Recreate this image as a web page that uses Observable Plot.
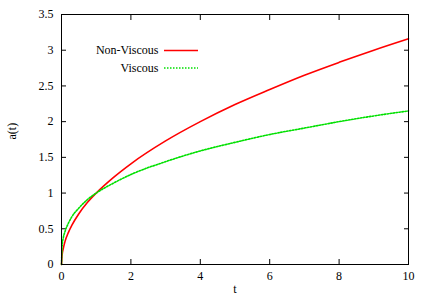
<!DOCTYPE html>
<html><head><meta charset="utf-8">
<script src="https://cdn.jsdelivr.net/npm/d3@7"></script>
<script src="https://cdn.jsdelivr.net/npm/@observablehq/plot@0.6"></script>
<style>
body{margin:0;background:#fff}
</style>
</head><body><div id="chart"></div>
<script>
const tValues = [0, 0.02, 0.05, 0.1, 0.2, 0.3, 0.5, 0.75, 1, 1.5, 2, 3, 4, 5, 6, 7, 8, 9, 10];
const nonViscous = [0, 0.14, 0.22, 0.32, 0.45, 0.55, 0.71, 0.87, 1, 1.22, 1.41, 1.73, 2, 2.24, 2.45, 2.65, 2.83, 3, 3.16];
const viscous = [0, 0.27, 0.37, 0.46, 0.58, 0.67, 0.79, 0.91, 1, 1.14, 1.26, 1.44, 1.59, 1.71, 1.82, 1.91, 2, 2.08, 2.15];
const xTicks = [0, 2, 4, 6, 8, 10];
const yTicks = [0, 0.5, 1, 1.5, 2, 2.5, 3, 3.5];
const seriesNames = ["Non-Viscous", "Viscous"];

const nv = tValues.map((t, i) => ({t, a: nonViscous[i]}));
const vs = tValues.map((t, i) => ({t, a: viscous[i]}));

const W = 428, H = 300, mL = 61, mR = 20, mT = 14, mB = 36;
const xs = d3.scaleLinear([0, 10], [mL, W - mR]);
const ys = d3.scaleLinear([0, 3.5], [H - mB, mT]);
const legX1 = xs.invert(164), legX2 = xs.invert(198);
const legY1 = ys.invert(50), legY2 = ys.invert(67.5);
const fmt = d => String(d);
const FS = 12;
const FF = "Liberation Serif";

const chart = Plot.plot({
  width: W, height: H,
  marginLeft: mL, marginRight: mR, marginTop: mT, marginBottom: mB,
  style: {fontSize: "12px", color: "#000", background: "#fff"},
  x: {domain: [0, 10]},
  y: {domain: [0, 3.5]},
  marks: [
    Plot.axisX({anchor: "bottom", ticks: xTicks, tickSize: -5, tickPadding: 12, tickFormat: fmt, label: null, fontSize: FS}),
    Plot.axisX({anchor: "top", ticks: xTicks, tickSize: -5, tickFormat: () => "", label: null}),
    Plot.axisY({anchor: "left", ticks: yTicks, tickSize: -5, tickPadding: 13, tickFormat: fmt, label: null, fontSize: FS}),
    Plot.axisY({anchor: "right", ticks: yTicks, tickSize: -5, tickFormat: () => "", label: null}),
    Plot.line(nv, {x: "t", y: "a", stroke: "#ff0000", strokeWidth: 1.6, curve: "monotone-x"}),
    Plot.line(vs, {x: "t", y: "a", stroke: "#00e000", strokeWidth: 1.6, strokeDasharray: "1.5,1.5", curve: "monotone-x"}),
    Plot.frame({stroke: "#000", strokeWidth: 1}),
    Plot.text(["a(t)"], {frameAnchor: "left", dx: -49, rotate: -90, fontSize: FS}),
    Plot.text(["t"], {frameAnchor: "bottom", dy: 28, fontSize: FS}),
    Plot.text([seriesNames[0]], {x: xs.invert(158), y: legY1, textAnchor: "end", fontSize: FS}),
    Plot.text([seriesNames[1]], {x: xs.invert(158), y: legY2, textAnchor: "end", fontSize: FS}),
    Plot.ruleY([legY1], {x1: legX1, x2: legX2, stroke: "#ff0000", strokeWidth: 1.6}),
    Plot.ruleY([legY2], {x1: legX1, x2: legX2, stroke: "#00e000", strokeWidth: 1.6, strokeDasharray: "1.5,1.5"})
  ]
});
chart.setAttribute("font-family", FF);
d3.select(chart).selectAll("g, text").style("font-family", FF);
document.getElementById("chart").appendChild(chart);
</script>
</body></html>
